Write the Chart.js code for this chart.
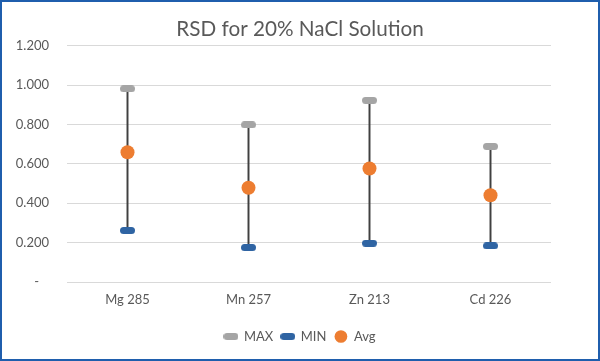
<!DOCTYPE html>
<html>
<head>
<meta charset="utf-8">
<script src="https://cdn.jsdelivr.net/npm/chart.js@4.4.0/dist/chart.umd.min.js"></script>
<style>
html,body{margin:0;padding:0;background:#fff;}
#wrap{width:600px;height:361px;position:relative;}
</style>
</head>
<body>
<div id="wrap"><canvas id="c" width="600" height="361"></canvas></div>
<script>
const categories = ['Mg 285', 'Mn 257', 'Zn 213', 'Cd 226'];
const maxValues = [0.982, 0.799, 0.923, 0.689];
const minValues = [0.262, 0.175, 0.197, 0.184];
const avgValues = [0.659, 0.479, 0.577, 0.441];
const yTicks = [0, 0.2, 0.4, 0.6, 0.8, 1.0, 1.2];

function pill(color) {
  const c = document.createElement('canvas');
  c.width = 15; c.height = 7;
  const g = c.getContext('2d');
  g.fillStyle = color;
  g.beginPath();
  g.roundRect(0, 0, 15, 7, 3.5);
  g.fill();
  return c;
}
const maxMarker = pill('#A5A5A5');
const minMarker = pill('#2F64A3');

const borderPlugin = {
  id: 'frame',
  afterDraw(chart) {
    const ctx = chart.ctx;
    ctx.save();
    ctx.strokeStyle = '#1F5EAD';
    ctx.lineWidth = 2;
    ctx.strokeRect(1, 1, chart.width - 2, chart.height - 2);
    ctx.restore();
  }
};

Chart.defaults.font.family = 'Lato, "Open Sans", sans-serif';
Chart.defaults.color = '#595959';

new Chart(document.getElementById('c'), {
  type: 'bar',
  data: {
    labels: categories,
    datasets: [
      {
        type: 'bar',
        label: 'HL',
        data: minValues.map((v, i) => [v, maxValues[i]]),
        backgroundColor: '#404040',
        borderWidth: 0,
        barThickness: 1.3,
        order: 10
      },
      {
        type: 'line',
        label: 'MAX',
        data: maxValues,
        showLine: false,
        pointStyle: maxMarker,
        backgroundColor: '#A5A5A5',
        borderColor: '#A5A5A5',
        order: 3
      },
      {
        type: 'line',
        label: 'MIN',
        data: minValues,
        showLine: false,
        pointStyle: minMarker,
        backgroundColor: '#2F64A3',
        borderColor: '#2F64A3',
        order: 2
      },
      {
        type: 'line',
        label: 'Avg',
        data: avgValues,
        showLine: false,
        pointStyle: 'circle',
        pointRadius: 7,
        pointBorderWidth: 0,
        backgroundColor: '#ED7D31',
        borderColor: '#ED7D31',
        order: 1
      }
    ]
  },
  options: {
    responsive: false,
    animation: false,
    layout: { padding: { top: 8, right: 0, bottom: 8, left: 0 } },
    plugins: {
      title: {
        display: true,
        text: 'RSD for 20% NaCl Solution',
        color: '#595959',
        font: { size: 20.7, weight: 'normal' },
        padding: { top: 9, bottom: 4 }
      },
      legend: {
        position: 'bottom',
        labels: {
          filter: (item) => item.text !== 'HL',
          sort: (a, b) => a.datasetIndex - b.datasetIndex,
          usePointStyle: true,
          boxHeight: 9,
          padding: 8,
          font: { size: 13 },
          color: '#595959'
        }
      },
      tooltip: { enabled: false }
    },
    scales: {
      x: {
        offset: true,
        grid: { display: false, drawTicks: false },
        border: { display: false },
        ticks: { font: { size: 13 }, color: '#595959', padding: 10 },
        afterFit(scale) { scale.height = 40; }
      },
      y: {
        min: 0,
        max: 1.2,
        afterBuildTicks(scale) { scale.ticks = yTicks.map(v => ({ value: v })); },
        grid: { color: '#D9D9D9', lineWidth: 1, drawTicks: false },
        border: { display: false },
        ticks: {
          font: { size: 13 },
          color: '#595959',
          padding: 18,
          callback: (v) => v === 0 ? '-   ' : Number(v).toFixed(3)
        },
        afterFit(scale) { scale.width = 67; }
      },
      yRightSpacer: {
        type: 'linear',
        position: 'right',
        display: true,
        grid: { display: false, drawTicks: false },
        border: { display: false },
        ticks: { display: false },
        afterFit(scale) { scale.width = 49; }
      }
    }
  },
  plugins: [borderPlugin]
});
</script>
</body>
</html>
